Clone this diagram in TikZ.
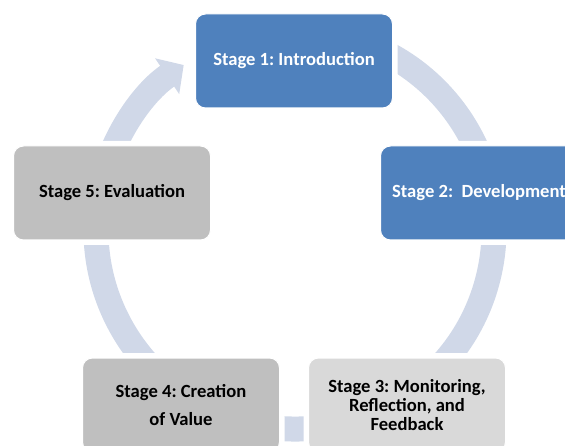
\documentclass[tikz,border=0pt]{standalone}
\usepackage{fontspec}
\setmainfont{Carlito}
\usetikzlibrary{arrows.meta}
\definecolor{stageblue}{RGB}{79,129,189}
\definecolor{stagegrey}{RGB}{191,191,191}
\definecolor{stagelight}{RGB}{217,217,217}
\definecolor{ringblue}{RGB}{208,216,232}
\frenchspacing
\begin{document}
\begin{tikzpicture}[x=1pt,y=-1pt,
        stage/.style={rectangle,rounded corners=10pt,minimum width=197pt,
            minimum height=94pt,inner sep=0pt,draw=white,line width=1pt,
            align=center,font=\fontsize{18.6}{19}\selectfont\bfseries,
            preaction={draw=white,line width=10pt}}]
\useasboundingbox (0,0) rectangle (565,446);

% the ring
\draw[ringblue,line width=25pt,-{Triangle[width=42pt,length=20pt]}]
    (295,230) ++(-75:199) arc[start angle=-75,end angle=236,radius=199];

\node[stage,fill=stageblue,text=white] (intro) at (294,61) {Stage 1: Introduction};
\node[stage,fill=stageblue,text=white] (devel) at (479,193) {Stage 2:\ \ Development};
\node[stage,fill=stagelight] (monit) at (407,405) {Stage 3: Monitoring,\\Reflection, and\\Feedback};
\node[stage,fill=stagegrey] (value) at (181,405) {Stage 4: Creation\\[9pt]of Value};
\node[stage,fill=stagegrey] (evalu) at (112,193) {Stage 5: Evaluation};

\end{tikzpicture}
\end{document}
